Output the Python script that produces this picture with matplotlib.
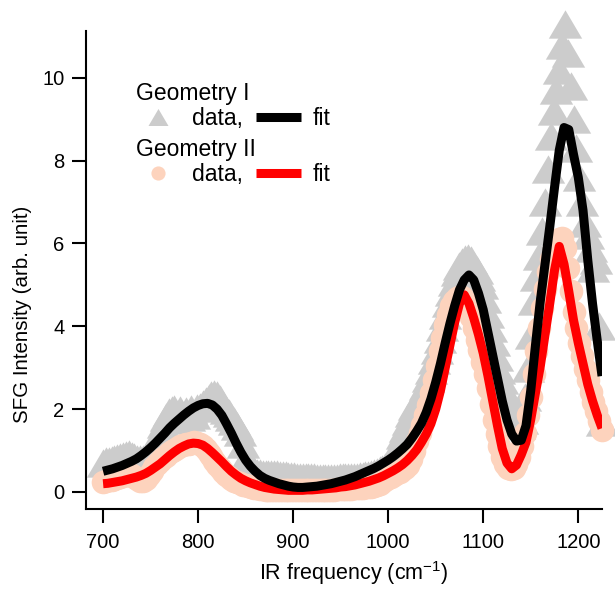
import numpy as np
import matplotlib.pyplot as plt
from matplotlib.path import Path

plt.rcParams['font.family'] = ['Liberation Sans', 'DejaVu Sans']
plt.rcParams['mathtext.fontset'] = 'custom'
plt.rcParams['mathtext.rm'] = 'Liberation Sans'

# measured SFG spectra, one point every 3 cm-1 from 700 to 1225
freq = np.arange(700, 1226, 3)
geo1_data = [
    0.70, 0.74, 0.76, 0.78, 0.80, 0.82, 0.84, 0.87, 0.90, 0.92,
    0.88, 0.84, 0.80, 0.79, 0.80, 0.82, 0.86, 0.92, 1.05, 1.25,
    1.45, 1.65, 1.82, 1.93, 1.98, 2.00, 1.80, 1.98, 1.75, 1.96,
    1.80, 2.00, 1.85, 2.02, 2.06, 2.12, 2.20, 2.28, 2.33, 2.36,
    2.35, 2.25, 2.10, 1.98, 1.90, 1.82, 1.72, 1.60, 1.45, 1.15,
    0.85, 0.65, 0.55, 0.50, 0.47, 0.45, 0.44, 0.43, 0.43, 0.44,
    0.44, 0.43, 0.42, 0.41, 0.40, 0.39, 0.38, 0.38, 0.37, 0.37,
    0.36, 0.36, 0.35, 0.35, 0.35, 0.34, 0.34, 0.34, 0.34, 0.34,
    0.34, 0.34, 0.34, 0.35, 0.35, 0.35, 0.36, 0.36, 0.37, 0.37,
    0.38, 0.39, 0.40, 0.42, 0.44, 0.46, 0.49, 0.52, 0.56, 0.60,
    0.65, 0.75, 0.88, 1.02, 1.20, 1.38, 1.55, 1.72, 1.90, 2.07,
    2.17, 2.28, 2.40, 2.57, 2.75, 2.95, 3.19, 3.44, 3.70, 3.98,
    4.28, 4.56, 4.84, 5.08, 5.30, 5.45, 5.55, 5.62, 5.66, 5.60,
    5.45, 5.35, 5.20, 5.00, 4.65, 4.30, 3.95, 3.62, 3.25, 2.95,
    2.70, 2.45, 2.25, 2.00, 1.80, 1.65, 1.62, 1.75, 2.30, 3.00,
    3.80, 4.60, 5.20, 5.70, 6.30, 7.00, 7.80, 8.60, 9.20, 9.70,
    10.2, 10.8, 11.3, 10.6, 9.80, 9.00, 8.30, 7.60, 7.00, 6.50,
    6.20, 5.90, 5.40, 5.60, 4.00, 1.70]
geo2_data = [
    0.24, 0.26, 0.28, 0.29, 0.31, 0.33, 0.36, 0.38, 0.41, 0.42,
    0.40, 0.36, 0.31, 0.27, 0.27, 0.32, 0.40, 0.50, 0.60, 0.68,
    0.75, 0.82, 0.88, 0.93, 0.98, 1.02, 1.06, 1.10, 1.13, 1.15,
    1.17, 1.19, 1.20, 1.19, 1.16, 1.11, 1.04, 0.95, 0.86, 0.76,
    0.66, 0.57, 0.49, 0.42, 0.36, 0.31, 0.27, 0.24, 0.21, 0.18,
    0.16, 0.14, 0.12, 0.10, 0.09, 0.08, 0.07, 0.06, 0.06, 0.05,
    0.05, 0.05, 0.04, 0.04, 0.04, 0.04, 0.04, 0.04, 0.04, 0.04,
    0.04, 0.04, 0.04, 0.05, 0.05, 0.05, 0.05, 0.06, 0.06, 0.06,
    0.06, 0.06, 0.07, 0.07, 0.07, 0.08, 0.08, 0.08, 0.09, 0.09,
    0.10, 0.10, 0.11, 0.12, 0.13, 0.15, 0.17, 0.20, 0.24, 0.28,
    0.33, 0.37, 0.41, 0.45, 0.49, 0.53, 0.58, 0.66, 0.80, 0.98,
    1.22, 1.42, 1.62, 1.85, 2.10, 2.38, 2.70, 3.05, 3.40, 3.72,
    4.02, 4.28, 4.48, 4.60, 4.68, 4.71, 4.70, 4.62, 4.45, 4.22,
    3.95, 3.68, 3.42, 3.15, 2.85, 2.50, 2.12, 1.75, 1.40, 1.10,
    0.85, 0.68, 0.58, 0.55, 0.58, 0.68, 0.85, 1.10, 1.42, 1.85,
    2.30, 2.85, 3.40, 3.95, 4.45, 4.90, 5.30, 5.62, 5.88, 6.02,
    6.12, 6.14, 5.90, 5.40, 4.85, 4.35, 3.95, 3.60, 3.28, 2.98,
    2.70, 2.42, 2.18, 1.95, 1.72, 1.50]

# fitted curves, every 5 cm-1
freq_fit = np.arange(700, 1226, 5)
geo1_fit = [
    0.50, 0.53, 0.56, 0.60, 0.64, 0.69, 0.74, 0.80, 0.88, 0.97,
    1.07, 1.18, 1.30, 1.42, 1.55, 1.66, 1.76, 1.86, 1.95, 2.03,
    2.09, 2.13, 2.14, 2.10, 2.00, 1.85, 1.64, 1.42, 1.18, 0.96,
    0.77, 0.62, 0.50, 0.40, 0.33, 0.28, 0.24, 0.20, 0.17, 0.14,
    0.12, 0.11, 0.11, 0.12, 0.13, 0.14, 0.16, 0.18, 0.20, 0.23,
    0.26, 0.29, 0.33, 0.37, 0.42, 0.47, 0.52, 0.57, 0.63, 0.70,
    0.77, 0.85, 0.94, 1.04, 1.15, 1.30, 1.47, 1.66, 1.92, 2.25,
    2.65, 3.10, 3.60, 4.07, 4.50, 4.88, 5.12, 5.24, 5.12, 4.80,
    4.40, 3.85, 3.30, 2.75, 2.20, 1.74, 1.40, 1.23, 1.25, 1.60,
    2.45, 3.55, 4.60, 5.50, 6.40, 7.35, 8.25, 8.80, 8.75, 8.15,
    7.60, 6.80, 5.60, 4.55, 3.65, 2.80]
geo2_fit = [
    0.20, 0.21, 0.23, 0.25, 0.27, 0.30, 0.33, 0.36, 0.40, 0.45,
    0.52, 0.60, 0.68, 0.78, 0.88, 0.97, 1.05, 1.11, 1.16, 1.18,
    1.17, 1.13, 1.05, 0.95, 0.84, 0.73, 0.61, 0.50, 0.41, 0.33,
    0.27, 0.22, 0.18, 0.14, 0.11, 0.09, 0.07, 0.06, 0.05, 0.04,
    0.04, 0.04, 0.04, 0.05, 0.05, 0.06, 0.07, 0.08, 0.09, 0.10,
    0.12, 0.13, 0.15, 0.17, 0.20, 0.23, 0.26, 0.30, 0.34, 0.39,
    0.45, 0.51, 0.58, 0.66, 0.76, 0.88, 1.02, 1.20, 1.40, 1.65,
    2.00, 2.45, 3.00, 3.55, 4.10, 4.55, 4.76, 4.55, 4.20, 3.80,
    3.35, 2.80, 2.20, 1.60, 1.05, 0.70, 0.56, 0.65, 0.90, 1.20,
    1.75, 2.40, 3.03, 3.80, 4.55, 5.35, 5.93, 5.50, 4.85, 4.15,
    3.60, 3.10, 2.60, 2.20, 1.85, 1.54]

gray = '#cccccc'
peach = '#fdd3bd'

# Igor-like triangle, a bit wider than tall
tri = Path([[0, 0.85], [-1, -0.85], [1, -0.85], [0, 0.85]], closed=True)

fig = plt.figure(figsize=(6.15, 5.93), dpi=100)
ax = fig.add_axes([0.1398, 0.1417, 0.8391, 0.806])

g1, = ax.plot(freq, geo1_data, ls='none', marker=tri, ms=24, mfc=gray,
              mec='none', clip_on=False, zorder=2)
g2, = ax.plot(freq, geo2_data, ls='none', marker='o', ms=17, mfc=peach,
              mec='none', clip_on=False, zorder=3)
f2, = ax.plot(freq_fit, geo2_fit, color='red', lw=6.5, solid_capstyle='butt',
              solid_joinstyle='round', zorder=4)
f1, = ax.plot(freq_fit, geo1_fit, color='black', lw=6.5, solid_capstyle='butt',
              solid_joinstyle='round', zorder=5)

ax.set_xlim(682, 1225)
ax.set_ylim(-0.41, 11.13)
ax.set_xticks([700, 800, 900, 1000, 1100, 1200])
ax.set_yticks([0, 2, 4, 6, 8, 10])

for s in ['top', 'right']:
    ax.spines[s].set_visible(False)
for s in ['left', 'bottom']:
    ax.spines[s].set_linewidth(1.5)
ax.tick_params(direction='out', length=10, width=1.5, labelsize=14.5)
ax.tick_params(axis='x', pad=7.5)
ax.tick_params(axis='y', pad=5.5)

ax.set_xlabel('IR frequency (cm$^{-1}$)', fontsize=15.5)
ax.set_ylabel('SFG Intensity (arb. unit)', fontsize=14.8)
ax.xaxis.set_label_coords(0.519, -0.105)
ax.yaxis.set_label_coords(-0.105, 0.407)

common = dict(ncol=2, loc='upper left', frameon=False, fontsize=16.5,
              title_fontsize=16.5, handlelength=1.96, handletextpad=0.5,
              columnspacing=0.55, labelspacing=0.1, borderpad=0,
              borderaxespad=0, markerscale=0.6, alignment='left')
leg1 = ax.legend([g1, f1], ['data,', 'fit'], title='Geometry I',
                 bbox_to_anchor=(0.097, 0.894), **common)
ax.add_artist(leg1)
leg2 = ax.legend([g2, f2], ['data,', 'fit'], title='Geometry II',
                 bbox_to_anchor=(0.097, 0.777), **common)

fig.savefig('out.png', dpi=100)
